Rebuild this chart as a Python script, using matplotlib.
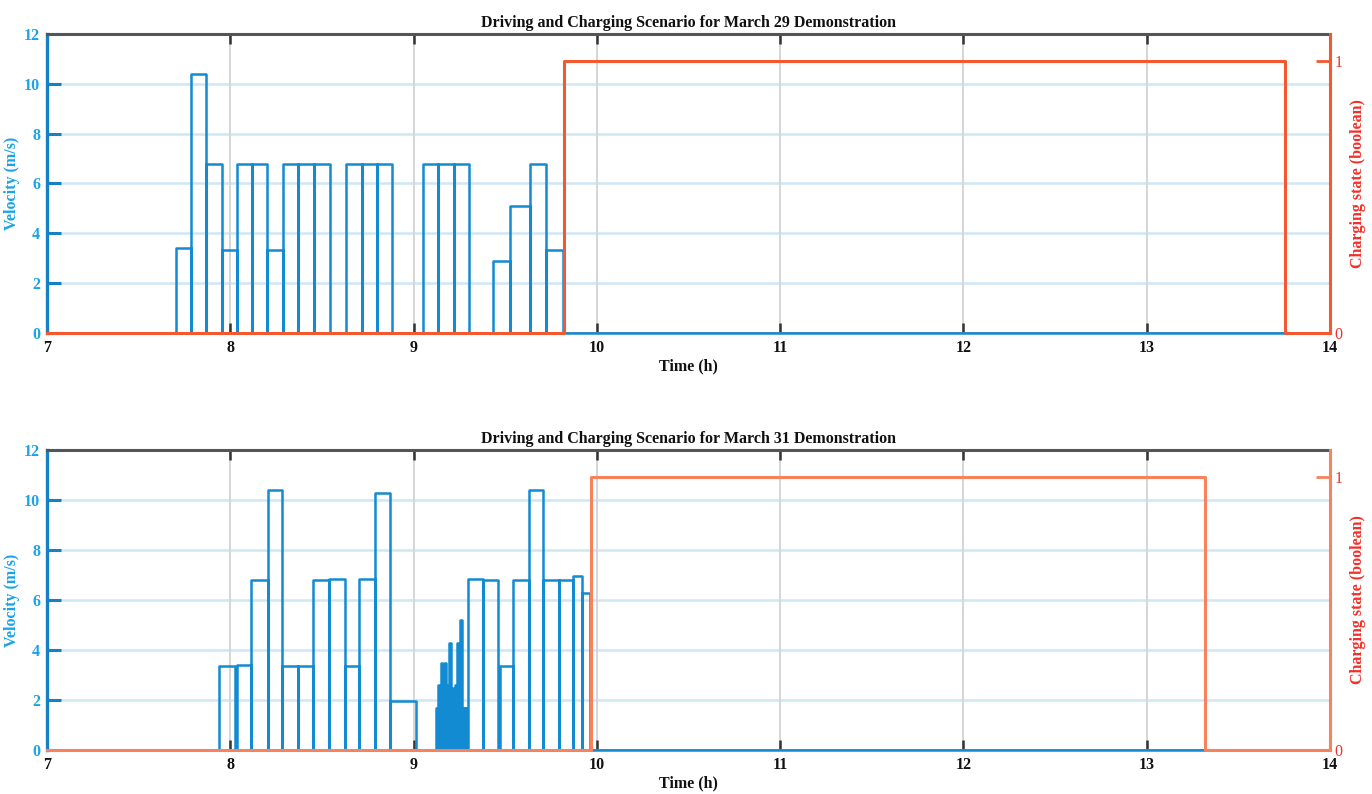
import matplotlib
matplotlib.use("Agg")
import matplotlib.pyplot as plt

# ---------------- data ----------------
# March 29: velocity bars (start h, end h, value m/s)
m29_start = [7.703, 7.783, 7.866, 7.957, 8.037, 8.121, 8.201, 8.288, 8.370, 8.455,
             8.633, 8.717, 8.802, 9.051, 9.132, 9.218, 9.436, 9.527, 9.636, 9.723]
m29_end   = [7.783, 7.866, 7.957, 8.037, 8.121, 8.201, 8.288, 8.370, 8.455, 8.542,
             8.717, 8.802, 8.884, 9.132, 9.218, 9.301, 9.527, 9.636, 9.723, 9.814]
m29_vel   = [3.4, 10.4, 6.8, 3.35, 6.8, 6.8, 3.35, 6.8, 6.8, 6.8,
             6.8, 6.8, 6.8, 6.8, 6.8, 6.8, 2.9, 5.1, 6.8, 3.35]
m29_charge_t = [7.0, 9.819, 13.752, 14.0]
m29_charge_v = [0, 1, 0, 0]

# March 31
m31_start = [7.939, 8.034, 8.115, 8.206, 8.284, 8.370, 8.451, 8.539, 8.624, 8.702,
             8.787, 8.873,
             9.122, 9.132, 9.140, 9.148, 9.156, 9.165, 9.175, 9.185, 9.195, 9.205,
             9.215, 9.225, 9.235, 9.247, 9.255, 9.266, 9.278,
             9.296, 9.378, 9.469, 9.545, 9.628, 9.708, 9.792, 9.872, 9.919]
m31_end   = [8.025, 8.115, 8.206, 8.284, 8.370, 8.451, 8.539, 8.624, 8.702, 8.787,
             8.873, 9.015,
             9.132, 9.140, 9.148, 9.156, 9.165, 9.175, 9.185, 9.195, 9.205, 9.215,
             9.225, 9.235, 9.247, 9.255, 9.266, 9.278, 9.292,
             9.378, 9.460, 9.545, 9.628, 9.708, 9.792, 9.872, 9.919, 9.963]
m31_vel   = [3.35, 3.4, 6.8, 10.4, 3.35, 3.35, 6.8, 6.85, 3.35, 6.85,
             10.3, 1.95,
             1.7, 2.6, 1.7, 3.5, 1.7, 3.5, 2.6, 1.7, 4.3, 2.5,
             1.7, 2.6, 4.3, 1.7, 5.2, 1.7, 1.7,
             6.85, 6.8, 3.35, 6.8, 10.4, 6.8, 6.8, 6.95, 6.3]
m31_charge_t = [7.0, 9.968, 13.32, 14.0]
m31_charge_v = [0, 1, 0, 0]

titles = ["Driving and Charging Scenario for March 29 Demonstration",
          "Driving and Charging Scenario for March 31 Demonstration"]
x_ticks = [7, 8, 9, 10, 11, 12, 13, 14]
v_ticks = [0, 2, 4, 6, 8, 10, 12]
c_ticks = [0, 1]

# ---------------- style ----------------
FONT = ["Liberation Serif", "DejaVu Serif"]
plt.rcParams["font.family"] = FONT
plt.rcParams["font.weight"] = "bold"

BLUE = "#138bd2"
BLUE_TXT = "#1aa3e6"
BLUE_SPINE = "#1580c4"
ORANGE = ["#f4582f", "#f7835e"]
RED_TXT = "#f3302a"
GRID_H = "#cfe6f5"
GRID_V = "#d6d6d6"

fig = plt.figure(figsize=(13.72, 7.94), dpi=100)
positions = [[47/1372, 1-333/794, 1283/1372, 299/794],
             [47/1372, 1-750/794, 1283/1372, 300/794]]

datasets = [(m29_start, m29_end, m29_vel, m29_charge_t, m29_charge_v),
            (m31_start, m31_end, m31_vel, m31_charge_t, m31_charge_v)]

for i, (starts, ends, vels, ct, cv) in enumerate(datasets):
    ax = fig.add_axes(positions[i])
    # build step outline from bars
    xs = [7.0]
    ys = [0.0]
    for s, e, v in zip(starts, ends, vels):
        xs += [s, s, e, e]
        ys += [0, v, v, 0]
    xs.append(14.0)
    ys.append(0.0)
    ax.plot(xs, ys, color=BLUE, lw=1.8, zorder=3, solid_joinstyle="round", clip_on=False)

    ax.set_xlim(7, 14)
    ax.set_ylim(0, 12)
    ax.set_xticks(x_ticks)
    ax.set_yticks(v_ticks)
    ax.set_xticklabels([str(t) for t in x_ticks], fontsize=11.5, fontweight="bold", color="#111111")
    ax.set_yticklabels([str(t) for t in v_ticks], fontsize=11.5, fontweight="bold", color=BLUE_TXT)
    ax.tick_params(axis="x", direction="in", top=True, bottom=True, length=7, width=1.8,
                   color="#333333", pad=5)
    ax.tick_params(axis="y", direction="in", length=10, width=2.2, color=BLUE_SPINE, pad=5)

    # gridlines
    for yv in v_ticks[1:-1]:
        ax.axhline(yv, color=GRID_H, lw=1.8, zorder=1)
    for xv in x_ticks[1:-1]:
        ax.axvline(xv, color=GRID_V, lw=1.4, zorder=1)

    ax.spines["left"].set_color(BLUE_SPINE)
    ax.spines["left"].set_linewidth(2.4)
    ax.spines["top"].set_color("#555555")
    ax.spines["top"].set_linewidth(2.2)
    ax.spines["bottom"].set_color("#888888")
    ax.spines["bottom"].set_linewidth(1.2)
    ax.spines["right"].set_visible(False)

    ax.set_ylabel("Velocity (m/s)", fontsize=11.5, fontweight="bold", color=BLUE_TXT, labelpad=3)
    ax.set_xlabel("Time (h)", fontsize=11.5, fontweight="bold", color="#111111", labelpad=2)
    ax.set_title(titles[i], fontsize=11.5, fontweight="bold", color="#111111", pad=5)

    ax2 = ax.twinx()
    ax2.set_position(positions[i])
    ax2.plot(ct, cv, drawstyle="steps-post", color=ORANGE[i], lw=2.2, zorder=4, clip_on=False)
    ax2.set_ylim(0, 1.1)
    ax2.set_xlim(7, 14)
    ax2.set_yticks(c_ticks)
    ax2.set_yticklabels([str(t) for t in c_ticks], fontsize=11.5, fontweight="normal", color=RED_TXT)
    ax2.tick_params(axis="y", direction="in", length=10, width=2.0, color=ORANGE[i], pad=3)
    for side in ["left", "top", "bottom"]:
        ax2.spines[side].set_visible(False)
    ax2.spines["right"].set_color(ORANGE[i])
    ax2.spines["right"].set_linewidth(2.2)
    ax2.set_ylabel("Charging state (boolean)", fontsize=11.5, fontweight="bold",
                   color=RED_TXT, labelpad=6)

fig.savefig("out.png", dpi=100)
